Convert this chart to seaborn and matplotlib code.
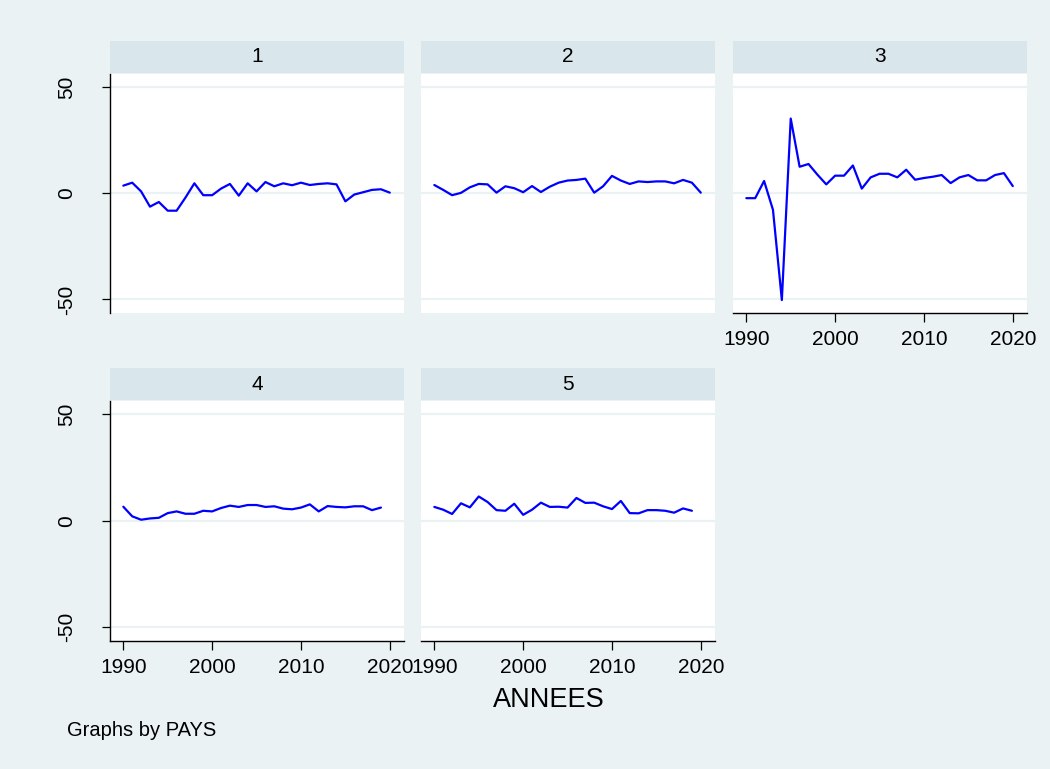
import numpy as np
import pandas as pd
import matplotlib
matplotlib.use("Agg")
import matplotlib.pyplot as plt
import seaborn as sns

# donnees
annees = list(range(1990, 2021))
pays1 = [3.6, 5.0, 0.9, -6.3, -4.1, -8.2, -8.2, -2.0, 4.7, -0.9, -0.9, 2.2, 4.4, -1.1, 4.7, 0.9,
         5.3, 3.3, 4.7, 3.8, 5.0, 3.9, 4.4, 4.7, 4.2, -3.8, -0.6, 0.5, 1.6, 1.9, 0.3]
pays2 = [3.9, 1.6, -0.9, 0.2, 2.8, 4.4, 4.2, 0.3, 3.3, 2.4, 0.5, 3.4, 0.6, 3.1, 5.0, 6.0,
         6.3, 6.9, 0.3, 3.3, 8.2, 6.0, 4.4, 5.6, 5.3, 5.6, 5.6, 4.7, 6.3, 5.0, 0.3]
pays3 = [-2.3, -2.3, 5.8, -7.8, -50.3, 35.2, 12.5, 13.8, 8.8, 4.2, 8.3, 8.3, 13.1, 2.2, 7.5, 9.2,
         9.2, 7.5, 11.1, 6.4, 7.2, 7.8, 8.6, 4.8, 7.5, 8.6, 6.1, 6.1, 8.6, 9.5, 3.4]
pays4 = [6.6, 2.1, 0.5, 1.1, 1.4, 3.6, 4.4, 3.3, 3.3, 4.7, 4.4, 6.0, 7.1, 6.5, 7.4, 7.4,
         6.5, 6.8, 5.7, 5.4, 6.2, 7.7, 4.4, 6.9, 6.5, 6.3, 6.8, 6.8, 5.0, 6.2]
pays5 = [6.5, 5.2, 3.2, 8.2, 6.3, 11.4, 8.8, 5.0, 4.7, 8.0, 2.8, 5.2, 8.5, 6.5, 6.6, 6.2,
         10.7, 8.4, 8.5, 6.8, 5.5, 9.3, 3.6, 3.5, 5.0, 5.0, 4.7, 3.8, 5.8, 4.7]

series = {1: pays1, 2: pays2, 3: pays3, 4: pays4, 5: pays5}
rows = []
for p, vals in series.items():
    for a, v in zip(annees, vals):
        rows.append((p, a, v))
df = pd.DataFrame(rows, columns=["PAYS", "ANNEES", "VALEUR"])

sns.set_style("white")
plt.rcParams["font.family"] = ["Liberation Sans", "DejaVu Sans"]
plt.rcParams["axes.unicode_minus"] = False
plt.rcParams["text.color"] = "black"
plt.rcParams["xtick.color"] = "black"
plt.rcParams["ytick.color"] = "black"
plt.rcParams["xtick.labelcolor"] = "black"
plt.rcParams["ytick.labelcolor"] = "black"

fond = "#eaf2f3"
bandeau = "#d9e6eb"
W, H = 1050, 769

fig = plt.figure(figsize=(10.5, 7.69), dpi=100, facecolor=fond)

cols = [110, 421, 733]
rows_px = [(74, 313), (401, 641)]
pw = 294

positions = {1: (0, 0), 2: (0, 1), 3: (0, 2), 4: (1, 0), 5: (1, 1)}

for p, (r, c) in positions.items():
    top, bot = rows_px[r]
    x0 = cols[c]
    ax = fig.add_axes([x0 / W, 1 - bot / H, pw / W, (bot - top) / H])
    # bandeau du titre
    sax = fig.add_axes([x0 / W, 1 - (top - 1) / H, pw / W, 32 / H])
    sax.set_facecolor(bandeau)
    sax.set_xticks([])
    sax.set_yticks([])
    for s in sax.spines.values():
        s.set_visible(False)
    sax.text(0.5, 0.5, str(p), ha="center", va="center", fontsize=15, transform=sax.transAxes)

    ax.set_facecolor("white")
    for y in [-50, 0, 50]:
        ax.axhline(y, color=fond, lw=1.6, zorder=1)
    sns.lineplot(data=df[df["PAYS"] == p], x="ANNEES", y="VALEUR", ax=ax,
                 color="#0000ff", lw=1.6, zorder=3, legend=False)
    ax.set_xlim(1988.5, 2021.6)
    ax.set_ylim(-56.4, 56.2)
    ax.set_xticks([1990, 2000, 2010, 2020])
    ax.set_yticks([-50, 0, 50])
    ax.set_xlabel("")
    ax.set_ylabel("")
    for s in ax.spines.values():
        s.set_visible(False)

    show_x = p in (3, 4, 5)
    show_y = c == 0
    if show_x:
        ax.spines["bottom"].set_visible(True)
        ax.spines["bottom"].set_color("black")
        ax.spines["bottom"].set_linewidth(1.0)
        ax.tick_params(axis="x", bottom=True, length=6.5, width=0.9, pad=6,
                       labelsize=15, color="black", labelcolor="black")
    else:
        ax.tick_params(axis="x", bottom=False, labelbottom=False)
    if show_y:
        ax.spines["left"].set_visible(True)
        ax.spines["left"].set_color("black")
        ax.spines["left"].set_linewidth(1.0)
        ax.tick_params(axis="y", left=True, length=5.8, width=0.9, pad=18.5,
                       labelsize=15, labelrotation=90, color="black", labelcolor="black")
        for lbl in ax.get_yticklabels():
            lbl.set_va("center")
    else:
        ax.tick_params(axis="y", left=False, labelleft=False)

fig.text(549 / W, 1 - 700 / H, "ANNEES", ha="center", va="center", fontsize=19.5)
fig.text(67 / W, 1 - 731 / H, "Graphs by PAYS", ha="left", va="center", fontsize=14.5)

fig.savefig("out.png", dpi=100, facecolor=fond)
